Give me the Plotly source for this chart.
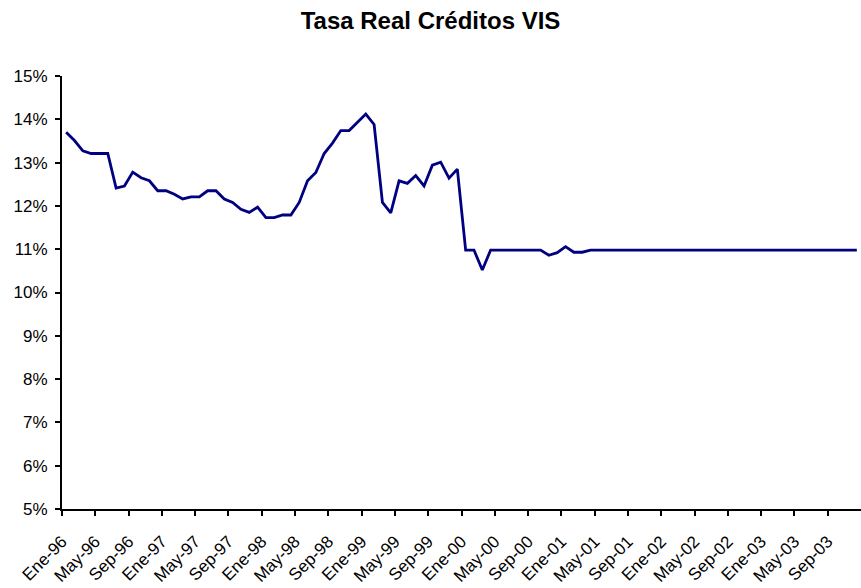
import plotly.graph_objects as go

# Monthly real rate on VIS housing loans, Jan-1996 .. Dec-2003 (percent)
months = [f"{m}-{y % 100:02d}" for y in range(1996, 2004) for m in
          ["Ene", "Feb", "Mar", "Abr", "May", "Jun", "Jul", "Ago", "Sep", "Oct", "Nov", "Dic"]]

tasa_real = [
    13.70, 13.51, 13.27, 13.21, 13.21, 13.21, 12.41, 12.46, 12.78, 12.65, 12.58, 12.35,
    12.35, 12.27, 12.16, 12.21, 12.21, 12.35, 12.35, 12.16, 12.08, 11.92, 11.85, 11.97,
    11.73, 11.73, 11.79, 11.79, 12.08, 12.58, 12.77, 13.21, 13.45, 13.74, 13.74, 13.93,
    14.12, 13.88, 12.08, 11.84, 12.58, 12.52, 12.70, 12.46, 12.94, 13.01, 12.64, 12.85,
    10.98, 10.98, 10.52, 10.98, 10.98, 10.98, 10.98, 10.98, 10.98, 10.98, 10.86, 10.92,
    11.06, 10.93, 10.93, 10.98, 10.98, 10.98, 10.98, 10.98, 10.98, 10.98, 10.98, 10.98,
    10.98, 10.98, 10.98, 10.98, 10.98, 10.98, 10.98, 10.98, 10.98, 10.98, 10.98, 10.98,
    10.98, 10.98, 10.98, 10.98, 10.98, 10.98, 10.98, 10.98, 10.98, 10.98, 10.98, 10.98,
]

tick_labels = [
    "Ene-96", "May-96", "Sep-96", "Ene-97", "May-97", "Sep-97",
    "Ene-98", "May-98", "Sep-98", "Ene-99", "May-99", "Sep-99",
    "Ene-00", "May-00", "Sep-00", "Ene-01", "May-01", "Sep-01",
    "Ene-02", "May-02", "Sep-02", "Ene-03", "May-03", "Sep-03",
]

x_idx = list(range(len(tasa_real)))
# ticks sit on the category boundaries, every fourth month
tick_pos = [months.index(lbl) - 0.5 for lbl in tick_labels]

fig = go.Figure(go.Scatter(
    x=x_idx, y=tasa_real, mode="lines",
    line=dict(color="#000080", width=2.8),
    customdata=months, hovertemplate="%{customdata}: %{y:.2f}%<extra></extra>",
))

font_family = "Liberation Sans, Arial, sans-serif"

fig.update_layout(
    width=861, height=588,
    margin=dict(l=62, r=0, t=76, b=79),
    paper_bgcolor="white", plot_bgcolor="white",
    showlegend=False,
    font=dict(family=font_family, size=17, color="black"),
    title=dict(text="<b>Tasa Real Créditos VIS</b>", x=0.5, xanchor="center",
               y=1 - 21 / 588, yanchor="middle", yref="container",
               font=dict(family=font_family, size=24, color="black")),
)

fig.update_xaxes(
    range=[-0.5, len(tasa_real) - 0.5],
    tickmode="array", tickvals=tick_pos, ticktext=tick_labels,
    tickangle=-45, ticks="outside", ticklen=5, tickwidth=2, tickcolor="black",
    ticklabelstandoff=9,
    showline=True, linecolor="black", linewidth=2,
    showgrid=False, zeroline=False,
    tickfont=dict(family=font_family, size=17, color="black"),
)

fig.update_yaxes(
    range=[5, 15], dtick=1, ticksuffix="%",
    ticks="outside", ticklen=5, tickwidth=2, tickcolor="black",
    ticklabelstandoff=4,
    showline=True, linecolor="black", linewidth=2,
    showgrid=False, zeroline=False,
    tickfont=dict(family=font_family, size=17, color="black"),
)

fig.write_html("out.html")
